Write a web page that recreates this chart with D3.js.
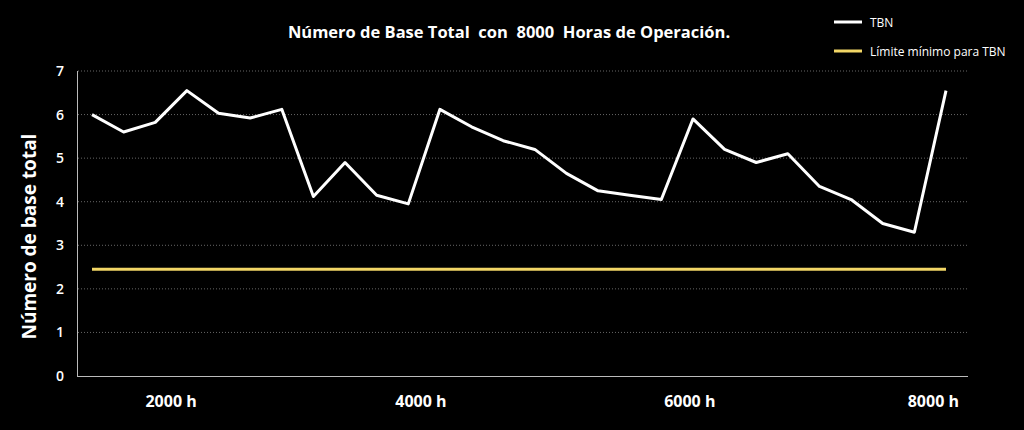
<!DOCTYPE html>
<html><head><meta charset="utf-8">
<script src="https://cdn.jsdelivr.net/npm/d3@7"></script>
<style>body{margin:0;background:#000;} text{font-family:"Open Sans",sans-serif;}</style>
</head><body>
<script>
// TBN readings, one per sample, in order
const tbnValues = [6.0, 5.6, 5.82, 6.55, 6.03, 5.92, 6.12, 4.12, 4.9, 4.15, 3.95, 6.12, 5.72,
    5.4, 5.2, 4.65, 4.25, 4.15, 4.05, 5.9, 5.2, 4.9, 5.1, 4.35, 4.05, 3.5, 3.3, 6.55];
const tbnLimit = 2.45;
const yTicks = [0, 1, 2, 3, 4, 5, 6, 7];
// hour labels, placed in sample-index units
const hourLabels = ['2000 h', '4000 h', '6000 h', '8000 h'];
const hourLabelPos = [2.5, 10.4, 18.9, 26.6];
const legendItems = ['TBN', 'Límite mínimo para TBN'];
const legendColors = ['#ffffff', '#f2d666'];

function main()
{
    const svg = d3.select('body').append('svg')
        .attr('width', 1024).attr('height', 430);
    svg.append('rect').attr('width', 1024).attr('height', 430).attr('fill', '#000');

    const scX = d3.scaleLinear().domain([0, tbnValues.length - 1]).range([92, 946]);
    const scY = d3.scaleLinear().domain([0, 7]).range([376, 71]);

    // grid
    svg.append('g').selectAll('line')
        .data(yTicks.filter(d => d > 0)).enter().append('line')
        .attr('x1', 78).attr('x2', 968)
        .attr('y1', d => scY(d)).attr('y2', d => scY(d))
        .attr('stroke', '#666').attr('stroke-dasharray', '1,2');

    // axes lines
    svg.append('line').attr('x1', 77.5).attr('x2', 77.5)
        .attr('y1', scY(7)).attr('y2', scY(0)).attr('stroke', '#bbb');
    svg.append('line').attr('x1', 77).attr('x2', 968)
        .attr('y1', scY(0) + 0.5).attr('y2', scY(0) + 0.5).attr('stroke', '#bbb');

    svg.append('g').selectAll('text')
        .data(yTicks).enter().append('text')
        .attr('x', 60).attr('y', d => scY(d) + 5)
        .attr('text-anchor', 'middle').attr('fill', '#fff')
        .attr('font-size', 14).attr('font-weight', 600)
        .text(d => d);

    svg.append('g').selectAll('text')
        .data(hourLabels).enter().append('text')
        .attr('x', (d, i) => scX(hourLabelPos[i]))
        .attr('y', 407).attr('text-anchor', 'middle').attr('fill', '#fff')
        .attr('font-size', 16).attr('font-weight', 700)
        .text(d => d);

    svg.append('text')
        .attr('transform', `translate(36, ${scY(3.2)}) rotate(-90)`)
        .attr('text-anchor', 'middle').attr('fill', '#fff')
        .attr('font-size', 19).attr('font-weight', 700)
        .text('Número de base total');

    svg.append('text').attr('x', 509).attr('y', 38)
        .attr('text-anchor', 'middle').attr('fill', '#fff')
        .attr('font-size', 16.5).attr('font-weight', 700)
        .attr('xml:space', 'preserve')
        .text('Número de Base Total  con  8000  Horas de Operación.');

    // limit line
    svg.append('line')
        .attr('x1', scX(0)).attr('x2', scX(tbnValues.length - 1))
        .attr('y1', scY(tbnLimit)).attr('y2', scY(tbnLimit))
        .attr('stroke', legendColors[1]).attr('stroke-width', 3);

    const line = d3.line().x((d, i) => scX(i)).y(d => scY(d));
    svg.append('path').attr('d', line(tbnValues))
        .attr('fill', 'none').attr('stroke', '#fff').attr('stroke-width', 3)
        .attr('stroke-linejoin', 'round');

    const leg = svg.append('g').selectAll('g')
        .data(legendItems).enter().append('g')
        .attr('transform', (d, i) => `translate(834, ${22 + i * 29})`);
    leg.append('line').attr('x1', 0).attr('x2', 28)
        .attr('stroke', (d, i) => legendColors[i]).attr('stroke-width', 3);
    leg.append('text').attr('x', 36).attr('y', 4.5)
        .attr('fill', '#fff').attr('font-size', 12).text(d => d);
}

main();
</script>
</body></html>
